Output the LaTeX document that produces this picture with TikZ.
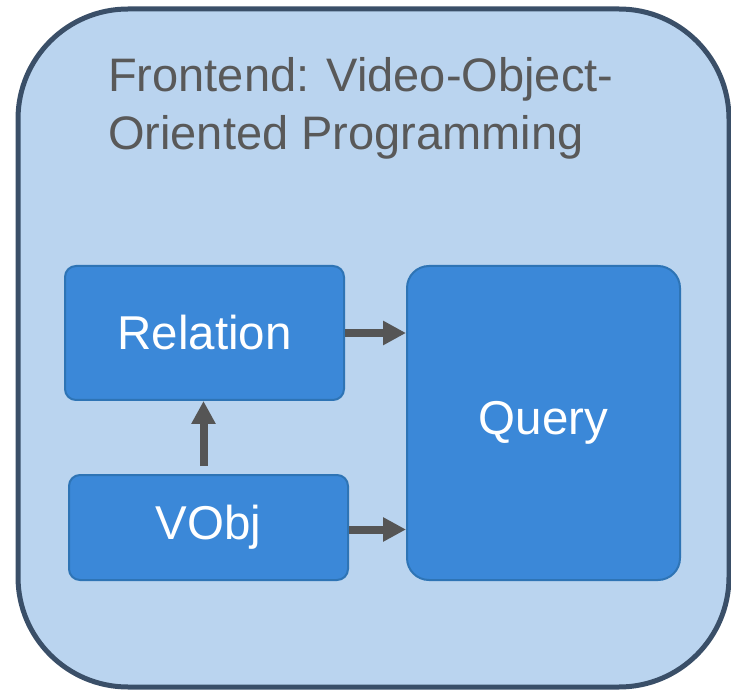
\documentclass[tikz,border=0pt]{standalone}
\usepackage{fontspec}
\setmainfont{Liberation Sans}
\usetikzlibrary{arrows.meta}

\definecolor{panelfill}{HTML}{BAD4EF}
\definecolor{paneldraw}{HTML}{3A4F68}
\definecolor{boxfill}{HTML}{3B88D8}
\definecolor{boxdraw}{HTML}{2E74B5}
\definecolor{arrowgray}{HTML}{555555}
\definecolor{titlegray}{HTML}{595959}

\begin{document}
\begin{tikzpicture}[x=1pt,y=-1pt,
    blockbox/.style={draw=boxdraw, line width=2pt, fill=boxfill, text=white,
        font=\fontsize{47.5}{56}\selectfont, rounded corners=11pt},
    flowarrow/.style={draw=arrowgray, line width=8pt,
        -{Triangle[length=23pt,width=23pt]}}]

    % 画布大小
    \useasboundingbox (0,0) rectangle (731,692);

    % 外框
    \draw[draw=paneldraw, fill=panelfill, line width=5pt, rounded corners=110pt]
        (18,9) rectangle (729,687);

    % 标题 (base 是第二行的基线)
    \node[anchor=base west, align=left, inner sep=0pt, text=titlegray,
        font=\fontsize{47}{58}\selectfont] (title) at (108,150)
        {Frontend: Video-Object-\\Oriented Programming};

    % 三个模块
    \node[blockbox, minimum width=279pt, minimum height=134pt] (rel) at (204.5,333) {Relation};
    \node[blockbox, minimum width=279pt, minimum height=105pt] (vobj) at (208.5,527.5) {VObj};
    \node[blockbox, minimum width=273pt, minimum height=314pt, rounded corners=22pt] (qry) at (543.5,423) {Query};

    % 箭头
    \draw[flowarrow] (rel.east) -- (rel.east -| qry.west);
    \draw[flowarrow] ([yshift=-2pt]vobj.east) -- ([yshift=-2pt]vobj.east -| qry.west);
    \draw[flowarrow, shorten <=8pt] ([xshift=-5pt]vobj.north) -- ([xshift=-5pt]vobj.north |- rel.south);

\end{tikzpicture}
\end{document}
